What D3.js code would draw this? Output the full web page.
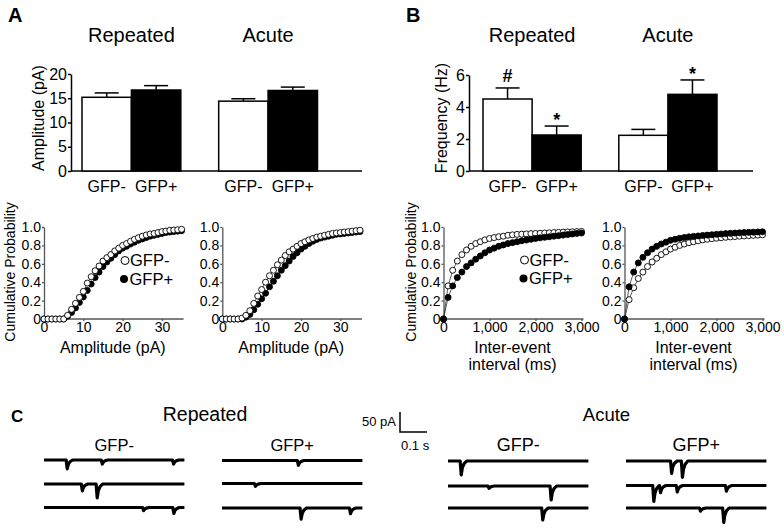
<!DOCTYPE html>
<html>
<head>
<meta charset="utf-8">
<script src="https://cdn.jsdelivr.net/npm/d3@7"></script>
<style>
body { margin: 0; background: #fff; }
svg { display: block; font-family: "Liberation Sans", Arial, sans-serif; }
</style>
</head>
<body>
<div id="fig"></div>
<script>
// ---- data ----
var conditions = ["Repeated", "Acute"];
var groups = ["GFP-", "GFP+"];

// bars, order: Repeated GFP-, Repeated GFP+, Acute GFP-, Acute GFP+
var ampMean = [15.2, 16.7, 14.4, 16.6];
var ampSem = [0.9, 0.9, 0.5, 0.7];
var ampTicks = [0, 5, 10, 15, 20];

var freqMean = [4.5, 2.25, 2.23, 4.79];
var freqSem = [0.69, 0.56, 0.37, 0.9];
var freqMarks = ["#", "*", "", "*"];
var freqTicks = [0, 2, 4, 6];

// cumulative amplitude distributions (pA bins)
var ampBins = [0,1,2,3,4,5,6,7,8,9,10,11,12,13,14,15,16,17,18,19,20,21,22,23,24,25,26,27,28,29,30,31,32,33,34,35];
var ampRepNeg = [0,0,0,0,0,0,0.04,0.105,0.17,0.235,0.30,0.39,0.46,0.525,0.576,0.63,0.667,0.70,0.74,0.77,0.80,0.82,0.845,0.866,0.884,0.90,0.913,0.924,0.93,0.94,0.95,0.956,0.964,0.967,0.97,0.975];
var ampRepPos = [0,0,0,0,0,0,0.03,0.07,0.12,0.18,0.24,0.31,0.38,0.45,0.51,0.57,0.62,0.66,0.70,0.74,0.77,0.79,0.815,0.835,0.855,0.87,0.885,0.90,0.91,0.92,0.93,0.94,0.945,0.95,0.955,0.96];
var ampAcuNeg = [0,0,0,0,0,0.01,0.04,0.09,0.17,0.25,0.32,0.40,0.47,0.53,0.59,0.64,0.69,0.73,0.76,0.79,0.82,0.84,0.86,0.875,0.89,0.90,0.91,0.92,0.93,0.935,0.94,0.945,0.95,0.955,0.96,0.965];
var ampAcuPos = [0,0,0,0,0,0,0.02,0.05,0.10,0.16,0.22,0.28,0.35,0.41,0.47,0.53,0.58,0.63,0.68,0.72,0.76,0.79,0.82,0.845,0.865,0.88,0.89,0.90,0.91,0.92,0.925,0.93,0.935,0.94,0.945,0.95];
var ampTicksX = [0, 10, 20, 30];

// cumulative inter-event interval distributions (ms bins)
var iviBins = [0,100,200,300,400,500,600,700,800,900,1000,1100,1200,1300,1400,1500,1600,1700,1800,1900,2000,2100,2200,2300,2400,2500,2600,2700,2800,2900,3000];
var iviRepNeg = [0,0.36,0.53,0.63,0.70,0.75,0.79,0.82,0.84,0.86,0.875,0.885,0.895,0.90,0.91,0.915,0.92,0.922,0.925,0.928,0.93,0.932,0.935,0.937,0.94,0.942,0.944,0.946,0.948,0.95,0.952];
var iviRepPos = [0,0.235,0.36,0.45,0.51,0.57,0.61,0.65,0.685,0.72,0.75,0.77,0.79,0.805,0.82,0.83,0.84,0.85,0.858,0.866,0.875,0.882,0.888,0.894,0.90,0.906,0.912,0.918,0.924,0.93,0.935];
var iviAcuNeg = [0,0.21,0.34,0.44,0.51,0.57,0.62,0.66,0.70,0.73,0.76,0.78,0.80,0.815,0.83,0.84,0.85,0.86,0.867,0.873,0.878,0.883,0.888,0.892,0.896,0.90,0.903,0.906,0.909,0.912,0.915];
var iviAcuPos = [0,0.35,0.51,0.61,0.67,0.72,0.76,0.79,0.815,0.835,0.855,0.867,0.877,0.886,0.893,0.898,0.903,0.908,0.912,0.916,0.92,0.924,0.928,0.931,0.934,0.937,0.94,0.942,0.944,0.946,0.948];
var iviTicksX = [0, 1000, 2000, 3000];
var cumTicksY = [0, 0.2, 0.4, 0.6, 0.8, 1.0];

// example sEPSC traces: per row, list of [time (s), peak (pA)]
var traceDuration = 0.52;
var repNegEvents = [[[0.084, -22], [0.214, -10], [0.478, -10]], [[0.140, -17], [0.195, -35]], [[0.367, -8], [0.479, -15]]];
var repPosEvents = [[[0.281, -12]], [[0.122, -7]], [[0.291, -28], [0.474, -14]]];
var acuNegEvents = [[[0.047, -35]], [[0.150, -6], [0.380, -35]], [[0.349, -30]]];
var acuPosEvents = [[[0.167, -31], [0.207, -41]], [[0.101, -40], [0.126, -18], [0.188, -16], [0.370, -14]], [[0.274, -8], [0.360, -36]]];

// ---- drawing ----
var W = 784, H = 530;
var svg = d3.select("#fig").append("svg").attr("width", W).attr("height", H);
svg.append("rect").attr("width", W).attr("height", H).attr("fill", "#fff");

function text(g, x, y, s, size, opts) {
    opts = opts || {};
    return g.append("text")
        .attr("x", x).attr("y", y)
        .attr("text-anchor", opts.anchor || "middle")
        .attr("font-size", size)
        .attr("font-weight", opts.bold ? "bold" : null)
        .attr("transform", opts.rotate ? "rotate(-90," + x + "," + y + ")" : null)
        .text(s);
}

function styleAxis(a, size, color) {
    a.attr("font-family", null).attr("font-size", null);
    a.selectAll("text").attr("font-size", size).attr("fill", "#000");
    a.selectAll("line,path").attr("stroke", color).attr("stroke-width", color === "#000" ? 1.5 : 1.3);
}

function barPanel(p) {
    var g = svg.append("g");
    var y = d3.scaleLinear().domain([0, p.yMax]).range([171, p.yTop]);
    var cond = d3.scaleBand().domain(conditions).range(p.bandRange).paddingInner(0.277).paddingOuter(0);
    var grp = d3.scaleBand().domain(groups).range([0, cond.bandwidth()]);

    var ax = g.append("g").attr("transform", "translate(" + p.axisX + ",0)")
        .call(d3.axisLeft(y).tickValues(p.ticks).tickSize(3).tickSizeOuter(0).tickPadding(1)
            .tickFormat(d3.format("d")));
    styleAxis(ax, 16, "#000");

    g.append("line").attr("x1", p.axisX).attr("x2", p.axisEnd).attr("y1", y(0)).attr("y2", y(0))
        .attr("stroke", "#000").attr("stroke-width", 1.5);

    conditions.forEach(function(c, ci) {
        text(g, cond(c) + cond.bandwidth() / 2, 41.5, c, 20);
        groups.forEach(function(gr, gi) {
            var i = ci * 2 + gi;
            var bx = cond(c) + grp(gr), bw = grp.bandwidth(), cx = bx + bw / 2;
            var top = y(p.means[i]), errTop = y(p.means[i] + p.sems[i]);
            g.append("line").attr("x1", cx).attr("x2", cx).attr("y1", top).attr("y2", errTop)
                .attr("stroke", "#000").attr("stroke-width", 1.5);
            g.append("line").attr("x1", cx - 12).attr("x2", cx + 12).attr("y1", errTop).attr("y2", errTop)
                .attr("stroke", "#000").attr("stroke-width", 1.5);
            g.append("rect").attr("x", bx).attr("y", top).attr("width", bw).attr("height", y(0) - top)
                .attr("fill", gi === 0 ? "#fff" : "#000").attr("stroke", "#000").attr("stroke-width", 1.5);
            text(g, cx, 191.5, gr, 16);
            if (p.marks && p.marks[i]) {
                text(g, cx, errTop - (p.marks[i] === "#" ? 6 : 0), p.marks[i], 18, {bold: true});
            }
        });
    });
    text(g, p.labelX, 118, p.label, 16, {rotate: true});
}

function cumPanel(p) {
    var g = svg.append("g");
    var x = d3.scaleLinear().domain(p.domain).range(p.xRange);
    var y = d3.scaleLinear().domain([0, 1]).range([319, 227]);

    var ay = g.append("g").attr("transform", "translate(" + p.xRange[0] + ",0)")
        .call(d3.axisLeft(y).tickValues(cumTicksY).tickSize(2).tickSizeOuter(0).tickPadding(1)
            .tickFormat(function(d) { return d === 0 ? "0" : d3.format(".1f")(d); }));
    var axx = g.append("g").attr("transform", "translate(0,319)")
        .call(d3.axisBottom(x).tickValues(p.ticks).tickSize(2).tickSizeOuter(0).tickPadding(1)
            .tickFormat(p.fmt));
    styleAxis(ay, 14, "#555");
    styleAxis(axx, 14, "#555");
    axx.select(".domain").attr("d", "M" + p.xRange[0] + ",0H" + (p.xRange[1] + 2));

    var line = d3.line().x(function(d, i) { return x(p.bins[i]); }).y(function(d) { return y(d); });
    var series = [{d: p.neg, fill: "#fff"}, {d: p.pos, fill: "#000"}];
    if (p.negOnTop) series.reverse();
    series.forEach(function(s) {
        g.append("path").attr("d", line(s.d)).attr("fill", "none").attr("stroke", "#333").attr("stroke-width", 0.8);
    });
    series.forEach(function(s) {
        g.selectAll(null).data(s.d).enter().append("circle")
            .attr("cx", function(d, i) { return x(p.bins[i]); })
            .attr("cy", function(d) { return y(d); })
            .attr("r", 3).attr("fill", s.fill).attr("stroke", "#000").attr("stroke-width", 0.9);
    });

    if (p.legend) {
        var lx = p.legend[0], ly = p.legend[1];
        g.append("circle").attr("cx", lx + 1).attr("cy", ly).attr("r", 4).attr("fill", "#fff").attr("stroke", "#000").attr("stroke-width", 1);
        text(g, lx + 6, ly + 5.5, "GFP-", 16.5, {anchor: "start"});
        g.append("circle").attr("cx", lx).attr("cy", ly + 18.5).attr("r", 4).attr("fill", "#000");
        text(g, lx + 5.5, ly + 24, "GFP+", 16.5, {anchor: "start"});
    }
    var cx = (p.xRange[0] + p.xRange[1]) / 2;
    p.xLabel.forEach(function(s, i) { text(g, cx, 353 + i * 17, s, 16); });
}

// panel letters
text(svg, 8, 22, "A", 20, {bold: true, anchor: "start"});
text(svg, 406, 22, "B", 20, {bold: true, anchor: "start"});
text(svg, 11, 422, "C", 17, {bold: true, anchor: "start"});

barPanel({axisX: 71, axisEnd: 362, bandRange: [82, 317.5], yMax: 20, yTop: 74, ticks: ampTicks,
    means: ampMean, sems: ampSem, label: "Amplitude (pA)", labelX: 44});
barPanel({axisX: 469, axisEnd: 753, bandRange: [483, 717], yMax: 6, yTop: 75, ticks: freqTicks,
    means: freqMean, sems: freqSem, marks: freqMarks, label: "Frequency (Hz)", labelX: 447});

var fmtInt = d3.format(",");
cumPanel({xRange: [44, 181.6], domain: [0, 35], ticks: ampTicksX, fmt: fmtInt, bins: ampBins,
    neg: ampRepNeg, pos: ampRepPos, negOnTop: true, legend: [124, 260.5], xLabel: ["Amplitude (pA)"]});
cumPanel({xRange: [222.3, 360], domain: [0, 35], ticks: ampTicksX, fmt: fmtInt, bins: ampBins,
    neg: ampAcuNeg, pos: ampAcuPos, negOnTop: true, xLabel: ["Amplitude (pA)"]});
cumPanel({xRange: [443.5, 581.5], domain: [0, 3000], ticks: iviTicksX, fmt: fmtInt, bins: iviBins,
    neg: iviRepNeg, pos: iviRepPos, negOnTop: false, legend: [523.5, 260], xLabel: ["Inter-event", "interval (ms)"]});
cumPanel({xRange: [624.5, 762.5], domain: [0, 3000], ticks: iviTicksX, fmt: fmtInt, bins: iviBins,
    neg: iviAcuNeg, pos: iviAcuPos, negOnTop: false, xLabel: ["Inter-event", "interval (ms)"]});

text(svg, 15, 272, "Cumulative Probability", 14, {rotate: true});
text(svg, 416, 272, "Cumulative Probability", 14, {rotate: true});

// ---- panel C traces ----
var gc = svg.append("g");
var pA = d3.scaleLinear().domain([0, -50]).range([0, 20]);
var sec = d3.scaleLinear().domain([0, 0.1]).range([0, 27]);

function traceBlock(x0, rows, events, label, labelSize) {
    var t = d3.scaleLinear().domain([0, traceDuration]).range([x0, x0 + sec(traceDuration)]);
    text(gc, x0 + sec(traceDuration) / 2, 451, label, labelSize);
    events.forEach(function(ev, r) {
        var pts = [[0, 0]];
        ev.forEach(function(e) {
            var t0 = e[0], a = e[1];
            pts.push([t0 - 0.002, 0], [t0 + 0.002, a], [t0 + 0.006, a * 0.5], [t0 + 0.012, a * 0.2], [t0 + 0.022, 0]);
        });
        pts.push([traceDuration, 0]);
        gc.append("path")
            .attr("d", d3.line().x(function(d) { return t(d[0]); }).y(function(d) { return rows[r] + pA(d[1]); })(pts))
            .attr("fill", "none").attr("stroke", "#000").attr("stroke-width", 3.2).attr("stroke-linejoin", "round");
    });
}

traceBlock(44, [460, 484, 507.5], repNegEvents, "GFP-", 16.5);
traceBlock(222, [460.5, 483.5, 508], repPosEvents, "GFP+", 16.5);
traceBlock(448, [461, 486, 508], acuNegEvents, "GFP-", 18);
traceBlock(626, [461, 485.5, 508], acuPosEvents, "GFP+", 18);

text(gc, 205, 421, "Repeated", 19.5);
text(gc, 606.5, 421, "Acute", 18.5);

// scale bar: 50 pA x 0.1 s
var sbX = 400, sbY = 432;
gc.append("path")
    .attr("d", "M" + sbX + "," + (sbY - pA(-50)) + "V" + sbY + "H" + (sbX + sec(0.1)))
    .attr("fill", "none").attr("stroke", "#000").attr("stroke-width", 1.5);
text(gc, sbX - 4, 426, "50 pA", 13, {anchor: "end"});
text(gc, sbX + 1, 450, "0.1 s", 13, {anchor: "start"});
</script>
</body>
</html>
